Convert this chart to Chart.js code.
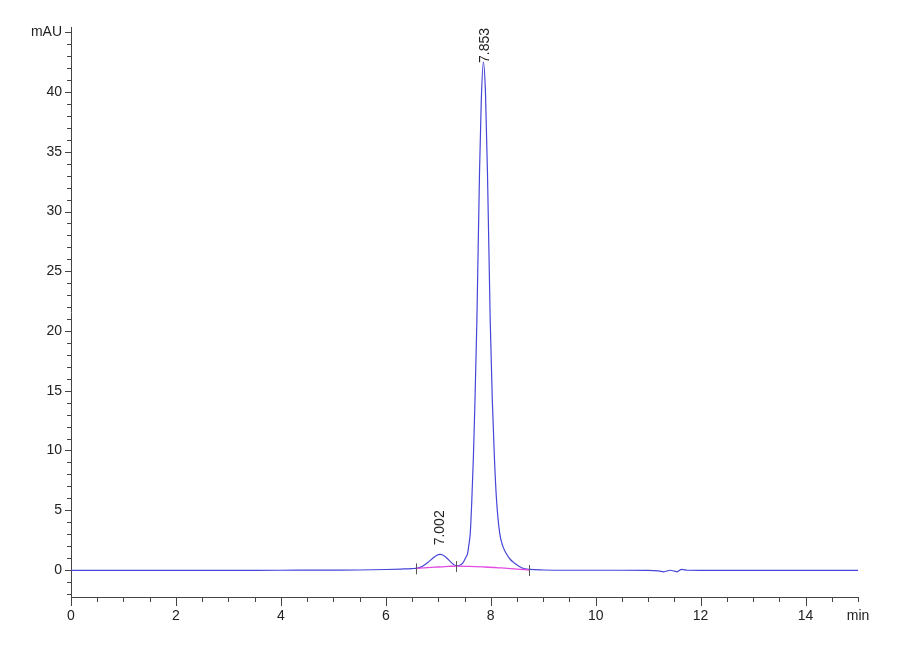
<!DOCTYPE html>
<html>
<head>
<meta charset="utf-8">
<script src="https://cdn.jsdelivr.net/npm/chart.js@4.4.1/dist/chart.umd.min.js"></script>
<style>
  html, body { margin: 0; padding: 0; background: #fff; }
  #wrap { width: 900px; height: 660px; }
</style>
</head>
<body>
<div id="wrap"><canvas id="chart" width="900" height="660"></canvas></div>
<script>
// retention time (min) and detector signal (mAU)
var timeMin = [0, 1, 2, 3, 4, 5, 5.5, 6.0, 6.3, 6.5, 6.6, 6.7, 6.8, 6.9, 7.0, 7.05, 7.15, 7.25, 7.34,
  7.42, 7.47, 7.52, 7.56, 7.58, 7.61, 7.64, 7.67, 7.70, 7.736, 7.786, 7.82, 7.86, 7.90, 7.938, 7.99,
  8.03, 8.07, 8.11, 8.17, 8.23, 8.29, 8.37, 8.45, 8.6, 8.75, 9.0, 9.5, 10, 10.5, 11, 11.2, 11.3,
  11.42, 11.5, 11.55, 11.64, 11.75, 12, 13, 14, 15];
var signalMAU = [-0.03, -0.03, -0.04, -0.03, -0.02, -0.01, 0.0, 0.04, 0.08, 0.12, 0.16, 0.32, 0.62, 1.0, 1.28, 1.3, 1.05, 0.62, 0.34,
  0.42, 0.6, 1.0, 1.42, 2.0, 3.1, 5.9, 9.5, 14.2, 20.9, 33.2, 39.3, 42.5, 39.9, 33.2, 20.9,
  14.2, 9.4, 5.9, 3.1, 2.0, 1.42, 0.9, 0.59, 0.17, 0.05, 0.0, -0.02, -0.02, -0.02, -0.03, -0.08, -0.15,
  -0.02, -0.1, -0.15, 0.05, -0.02, -0.03, -0.03, -0.03, -0.03];

// integration baseline drawn under the peaks
var baseTime = [6.576, 6.8, 7.0, 7.2, 7.337, 7.6, 7.9, 8.2, 8.5, 8.73];
var baseMAU = [0.14, 0.2, 0.25, 0.3, 0.33, 0.3, 0.25, 0.17, 0.08, 0.0];

// peak start/end marks
var markTime = [6.576, 7.337, 8.73];
var markMAU = [0.14, 0.33, 0.0];

// peak annotations
var peakTime = [7.002, 7.853];
var peakMAU = [1.31, 42.5];
var peakLabel = ['7.002', '7.853'];

var xLabels = ['0', '2', '4', '6', '8', '10', '12', '14'];
var yLabels = ['0', '5', '10', '15', '20', '25', '30', '35', '40'];
var xUnit = 'min';
var yUnit = 'mAU';

var FONT = "'Liberation Sans Narrow', 'Liberation Sans', Arial, sans-serif";

function pairs(xs, ys) {
  return xs.map(function (x, i) { return { x: x, y: ys[i] }; });
}

// one tick per step between the axis limits
function stepTicks(scale, step) {
  var out = [];
  var first = Math.ceil(scale.min / step - 1e-9);
  var last = Math.floor(scale.max / step + 1e-9);
  for (var k = first; k <= last; k++) out.push({ value: +(k * step).toFixed(6) });
  scale.ticks = out;
}

// tick marks, integration marks and rotated peak labels
var extras = {
  id: 'extras',
  afterDraw: function (chart) {
    var ctx = chart.ctx, xs = chart.scales.x, ys = chart.scales.y;
    var area = chart.chartArea;
    ctx.save();
    ctx.strokeStyle = '#444';
    ctx.lineWidth = 1;
    ctx.beginPath();
    xs.ticks.forEach(function (t) {
      var v = t.value;
      var px = Math.round(xs.getPixelForValue(v)) + 0.5;
      var len = (Math.abs(v % 2) < 1e-6) ? 9 : 5;
      ctx.moveTo(px, area.bottom);
      ctx.lineTo(px, area.bottom + len);
    });
    ys.ticks.forEach(function (t) {
      var v = t.value;
      var py = Math.round(ys.getPixelForValue(v)) + 0.5;
      var len = (Math.abs(v % 5) < 1e-6) ? 6 : 4;
      ctx.moveTo(area.left, py);
      ctx.lineTo(area.left - len, py);
    });
    ctx.stroke();

    // integration marks
    ctx.strokeStyle = '#555';
    ctx.beginPath();
    markTime.forEach(function (t, i) {
      var px = Math.round(xs.getPixelForValue(t)) + 0.5;
      var py = ys.getPixelForValue(markMAU[i]);
      ctx.moveTo(px, py - 5);
      ctx.lineTo(px, py + 6);
    });
    ctx.stroke();

    // peak retention-time labels, rotated, kept inside the plot
    ctx.fillStyle = '#222';
    ctx.font = "14px 'Liberation Sans', Arial, sans-serif";
    ctx.textAlign = 'left';
    ctx.textBaseline = 'middle';
    peakTime.forEach(function (t, i) {
      var w = ctx.measureText(peakLabel[i]).width;
      var px = xs.getPixelForValue(t) + 2;
      var py = Math.max(ys.getPixelForValue(peakMAU[i]) - 9, area.top + 1 + w);
      ctx.save();
      ctx.translate(px, py);
      ctx.rotate(-Math.PI / 2);
      ctx.fillText(peakLabel[i], 0, 0);
      ctx.restore();
    });
    ctx.restore();
  }
};

new Chart(document.getElementById('chart'), {
  type: 'line',
  data: {
    datasets: [{
      data: pairs(baseTime, baseMAU),
      borderColor: '#e24ae2',
      borderWidth: 1.3,
      pointRadius: 0,
      cubicInterpolationMode: 'monotone'
    }, {
      data: pairs(timeMin, signalMAU),
      borderColor: '#4646d8',
      borderWidth: 1.2,
      pointRadius: 0,
      cubicInterpolationMode: 'monotone'
    }]
  },
  options: {
    responsive: false,
    animation: false,
    layout: { padding: { top: 27, right: 42, left: 0, bottom: 0 } },
    plugins: { legend: { display: false }, tooltip: { enabled: false } },
    scales: {
      x: {
        type: 'linear',
        min: 0,
        max: 15,
        border: { color: '#444', width: 1 },
        grid: { display: true, drawOnChartArea: false, drawTicks: false },
        afterBuildTicks: function (s) { stepTicks(s, 0.5); },
        ticks: {
          autoSkip: false,
          maxRotation: 0,
          padding: 11,
          color: '#222',
          font: { family: FONT, size: 14 },
          callback: function (v) {
            if (Math.abs(v - 15) < 1e-6) return xUnit;
            var k = xLabels.indexOf(String(v));
            return k >= 0 ? xLabels[k] : '';
          }
        },
        afterFit: function (s) { s.height = 63; }
      },
      y: {
        type: 'linear',
        min: -2.26,
        max: 45.44,
        border: { color: '#444', width: 1 },
        grid: { display: true, drawOnChartArea: false, drawTicks: false },
        afterBuildTicks: function (s) { stepTicks(s, 1); },
        ticks: {
          autoSkip: false,
          padding: 9,
          color: '#222',
          font: { family: FONT, size: 14 },
          callback: function (v) {
            if (Math.abs(v - 45) < 1e-6) return yUnit;
            var k = yLabels.indexOf(String(v));
            return k >= 0 ? yLabels[k] : '';
          }
        },
        afterFit: function (s) { s.width = 71; }
      }
    }
  },
  plugins: [extras]
});
</script>
</body>
</html>
